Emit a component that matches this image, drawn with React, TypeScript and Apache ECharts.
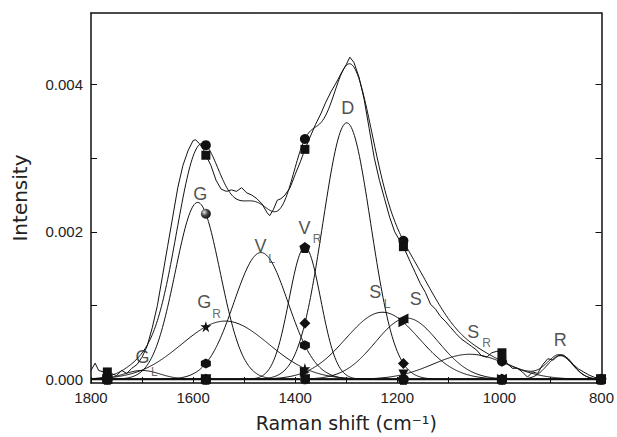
import React, { useEffect, useRef } from 'react';
import * as echarts from 'echarts';

// Fitted Raman bands: centre (cm-1), height, Gaussian sigma (cm-1)
const bandNames = ['GL', 'G', 'GR', 'VL', 'VR', 'D', 'SL', 'S', 'SR', 'R'];
const bandCenters = [1700, 1591, 1537, 1467, 1381, 1299, 1229, 1181, 1058, 881];
const bandHeights = [0.00012, 0.0024, 0.00079, 0.00172, 0.00179, 0.00348, 0.00091, 0.00083, 0.00034, 0.00032];
const bandSigmas = [35, 44, 85, 53, 31, 47, 72, 62, 72, 25];

const rawShift = [1800, 1792, 1785, 1775, 1768, 1760, 1750, 1740, 1730, 1720, 1710, 1700, 1690, 1680, 1670, 1660, 1650, 1640, 1630, 1620, 1610, 1600, 1595, 1588, 1580, 1575, 1565, 1555, 1545, 1535, 1525, 1515, 1505, 1495, 1485, 1475, 1465, 1455, 1450, 1443, 1435, 1428, 1420, 1410, 1400, 1390, 1381, 1370, 1360, 1350, 1340, 1330, 1320, 1310, 1300, 1293, 1285, 1275, 1265, 1255, 1245, 1235, 1225, 1215, 1205, 1195, 1188, 1175, 1165, 1155, 1145, 1135, 1125, 1115, 1105, 1095, 1085, 1075, 1065, 1055, 1045, 1035, 1025, 1015, 1005, 995, 985, 975, 965, 955, 945, 935, 925, 915, 905, 895, 885, 875, 865, 855, 845, 835, 825, 815, 800];
const rawIntensity = [0.00012, 0.00022, 0.00012, 0.0001, 0.0001, 0.00008, 0.00005, 0.00012, 0.00008, 0.00015, 0.0002, 0.0003, 0.00045, 0.0007, 0.001, 0.0014, 0.0018, 0.0022, 0.0026, 0.0029, 0.0031, 0.00324, 0.00325, 0.0032, 0.00312, 0.00304, 0.0029, 0.0027, 0.00258, 0.00255, 0.00257, 0.00255, 0.0026, 0.00253, 0.0025, 0.00245, 0.00238, 0.00226, 0.00222, 0.0023, 0.00243, 0.00245, 0.0025, 0.0026, 0.00278, 0.00295, 0.00312, 0.0033, 0.00346, 0.0036, 0.00376, 0.0039, 0.00402, 0.00415, 0.00427, 0.00437, 0.0043, 0.0041, 0.0038, 0.0034, 0.003, 0.0027, 0.00245, 0.0022, 0.002, 0.00188, 0.0018, 0.0016, 0.00145, 0.0013, 0.00118, 0.00102, 0.00095, 0.00085, 0.00078, 0.0007, 0.00062, 0.00055, 0.0005, 0.00045, 0.0004, 0.00032, 0.0003, 0.00036, 0.00038, 0.00036, 0.00022, 0.00015, 0.00015, 0.0001, 0.00003, 0.0001, 0.00008, 0.0002, 0.00028, 0.00026, 0.00032, 0.00033, 0.00028, 0.0002, 0.00014, 0.0001, 0.00006, 0.00003, 0.0];

// Positions of the curve markers along the shift axis
const markerShift = [1768, 1575, 1381, 1188, 995, 801];

// Axis ticks
const yTickValues = [0, 0.001, 0.002, 0.003, 0.004];
const yLabelValues = [0, 0.002, 0.004];

// Band annotations: main letter, subscript, and their positions in data units
const annText = ['G', 'G', 'V', 'V', 'D', 'S', 'S', 'S', 'R', 'G'];
const annSub = ['', 'R', 'L', 'R', '', 'L', '', 'R', '', 'L'];
const annShift = [1586, 1578, 1468, 1382, 1297, 1243, 1164, 1051, 881, 1699];
const annValue = [0.00251, 0.00105, 0.00181, 0.00205, 0.00368, 0.00119, 0.00109, 0.00064, 0.00053, 0.0003];
const annSubShift = [0, 1554, 1446, 1357, 0, 1220, 0, 1025, 0, 1676];
const annSubValue = [0, 0.000886, 0.00163, 0.0019, 0, 0.00102, 0, 0.00049, 0, 0.0001];

const STAR = 'path://M50,0 L61,35 L98,35 L68,57 L79,91 L50,70 L21,91 L32,57 L2,35 L39,35 Z';
const HEX = 'path://M50,0 L93,25 L93,75 L50,100 L7,75 L7,25 Z';
const PENT = 'path://M50,0 L98,35 L79,91 L21,91 L2,35 Z';

const INK = '#111';
const FONT = 'Liberation Sans, Arial, sans-serif';
const TITLE_FONT = 'DejaVu Sans, Liberation Sans, sans-serif';

function bandValue(i: number, w: number) {
  const d = w - bandCenters[i];
  const s = bandSigmas[i];
  return bandHeights[i] * Math.exp(-(d * d) / (2 * s * s));
}

function fitValue(w: number) {
  let t = 0;
  for (let i = 0; i < bandCenters.length; i++) t += bandValue(i, w);
  return t;
}

export default function App() {
  const ref = useRef<HTMLDivElement>(null);

  useEffect(() => {
    if (!ref.current) return;
    const chart = echarts.init(ref.current, null, { renderer: 'svg' });

    const shifts: number[] = [];
    for (let w = 1800; w >= 800; w -= 2) shifts.push(w);

    const ball = new echarts.graphic.RadialGradient(0.35, 0.35, 0.7, [
      { offset: 0, color: '#e8e8e8' },
      { offset: 0.5, color: '#444' },
      { offset: 1, color: '#111' },
    ]);

    const bandSymbols: any[] = [
      { symbol: 'circle' },
      { symbol: 'circle', color: ball, size: 10 },
      { symbol: STAR, size: 11 },
      { symbol: HEX, size: 10 },
      { symbol: PENT, size: 11 },
      { symbol: 'diamond', size: 11 },
      { symbol: 'triangle', rotate: -90, size: 10 },
      { symbol: 'triangle', rotate: 90, size: 10 },
      { symbol: 'triangle', rotate: 180, size: 10 },
      { symbol: 'rect', size: 8 },
    ];

    const series: any[] = [];

    // baseline
    series.push({
      type: 'line',
      data: [[1800, 0], [800, 0]],
      symbol: 'none',
      lineStyle: { color: INK, width: 2 },
      silent: true,
    });

    bandNames.forEach((name, i) => {
      series.push({
        name,
        type: 'line',
        data: shifts.map((w) => [w, bandValue(i, w)]),
        symbol: 'none',
        lineStyle: { color: INK, width: 1 },
        silent: true,
      });
    });

    // fitted envelope
    series.push({
      name: 'fit',
      type: 'line',
      data: shifts.map((w) => [w, fitValue(w)]),
      symbol: 'none',
      lineStyle: { color: INK, width: 1 },
      silent: true,
    });

    // raw spectrum
    series.push({
      name: 'raw',
      type: 'line',
      data: rawShift.map((w, k) => [w, rawIntensity[k]]),
      symbol: 'none',
      lineStyle: { color: INK, width: 1 },
      silent: true,
    });

    // markers
    bandNames.forEach((name, i) => {
      const s = bandSymbols[i];
      series.push({
        type: 'scatter',
        data: markerShift.map((w) => [w, bandValue(i, w)]),
        symbol: s.symbol,
        symbolSize: s.size || 9,
        symbolRotate: s.rotate || 0,
        itemStyle: { color: s.color || INK, opacity: 1 },
        silent: true,
        z: 5,
      });
    });
    series.push({
      type: 'scatter',
      data: markerShift.map((w) => [w, fitValue(w)]),
      symbol: 'circle',
      symbolSize: 10,
      itemStyle: { color: INK, opacity: 1 },
      silent: true,
      z: 5,
    });
    series.push({
      type: 'scatter',
      data: markerShift.map((w) => {
        const k = rawShift.indexOf(w);
        return [w, k >= 0 ? rawIntensity[k] : 0];
      }),
      symbol: 'rect',
      symbolSize: 9,
      itemStyle: { color: INK, opacity: 1 },
      silent: true,
      z: 5,
    });

    // annotations
    series.push({
      type: 'scatter',
      data: annText.map((t, k) => ({ value: [annShift[k], annValue[k]], name: t })),
      symbolSize: 0,
      silent: true,
      z: 6,
      label: {
        show: true,
        position: 'inside',
        formatter: (p: any) => p.name,
        fontSize: 18,
        color: '#222',
        fontFamily: FONT,
      },
    });
    series.push({
      type: 'scatter',
      data: annSub
        .map((t, k) => ({ value: [annSubShift[k], annSubValue[k]], name: t }))
        .filter((d) => d.name !== ''),
      symbolSize: 0,
      silent: true,
      z: 6,
      label: {
        show: true,
        position: 'inside',
        formatter: (p: any) => p.name,
        fontSize: 12,
        color: '#444',
        fontFamily: FONT,
      },
    });

    const yCommon = {
      type: 'value',
      min: -0.00005,
      max: 0.00497,
      splitLine: { show: false },
    };

    chart.setOption({
      animation: false,
      backgroundColor: '#fff',
      grid: { left: 91, right: 14, top: 13, bottom: 51, containLabel: false },
      xAxis: [
        {
          type: 'value',
          min: 800,
          max: 1800,
          interval: 100,
          inverse: true,
          position: 'bottom',
          name: 'Raman shift (cm⁻¹)',
          nameLocation: 'middle',
          nameGap: 30,
          nameTextStyle: { fontSize: 19, color: '#222', fontFamily: TITLE_FONT },
          axisLine: { onZero: false, lineStyle: { color: INK, width: 1.5 } },
          axisTick: { inside: true, length: 6, lineStyle: { color: INK, width: 1 } },
          axisLabel: {
            margin: 7,
            fontSize: 15,
            color: '#222',
            fontFamily: FONT,
            formatter: (v: number) => (v % 200 === 0 ? String(v) : ''),
          },
          splitLine: { show: false },
        },
        {
          type: 'value',
          min: 800,
          max: 1800,
          interval: 100,
          inverse: true,
          position: 'top',
          axisLine: { onZero: false, lineStyle: { color: INK, width: 1.5 } },
          axisTick: { show: false },
          axisLabel: { show: false },
          splitLine: { show: false },
        },
      ],
      yAxis: [
        {
          ...yCommon,
          position: 'left',
          name: 'Intensity',
          nameLocation: 'middle',
          nameGap: 61,
          nameRotate: 90,
          nameTextStyle: { fontSize: 20, color: '#222', fontFamily: TITLE_FONT },
          axisLine: { show: true, onZero: false, lineStyle: { color: INK, width: 1.5 } },
          axisTick: { show: true, inside: true, length: 6, customValues: yTickValues, lineStyle: { color: INK } },
          axisLabel: {
            customValues: yLabelValues,
            margin: 8,
            fontSize: 15,
            color: '#222',
            fontFamily: FONT,
            formatter: (v: number) => v.toFixed(3),
          },
        },
        {
          ...yCommon,
          position: 'right',
          axisLine: { show: true, onZero: false, lineStyle: { color: INK, width: 1.5 } },
          axisTick: { show: true, inside: true, length: 6, customValues: yTickValues, lineStyle: { color: INK } },
          axisLabel: { show: false },
        },
      ],
      series,
    });

    return () => chart.dispose();
  }, []);

  return (
    <div
      ref={ref}
      style={{ position: 'absolute', left: 0, top: 0, width: 617, height: 437, background: '#fff' }}
    />
  );
}
